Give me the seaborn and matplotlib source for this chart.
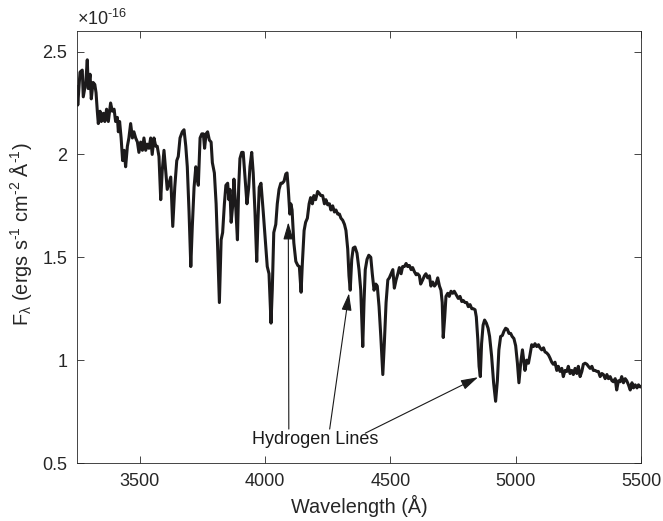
import numpy as np
import pandas as pd
import seaborn as sns
import matplotlib.pyplot as plt

# Observed spectrum: wavelength in Angstrom, flux in units of 1e-16 ergs/s/cm^2/A
wavelength = [
    3250, 3253, 3262, 3271, 3275, 3285, 3291, 3295, 3302, 3307, 3314, 3321, 3326, 3331, 3335,
    3342, 3347, 3355, 3361, 3368, 3375, 3384, 3391, 3398, 3404, 3411, 3415, 3420, 3426, 3432,
    3438, 3444, 3451, 3457, 3464, 3471, 3477, 3484, 3491, 3497, 3504, 3511, 3517, 3524, 3530,
    3537, 3544, 3550, 3557, 3564, 3570, 3577, 3584, 3590, 3597, 3604, 3610, 3617, 3624, 3632,
    3640, 3648, 3654, 3661, 3670, 3677, 3684, 3690, 3697, 3704, 3710, 3717, 3724, 3729, 3734,
    3741, 3748, 3754, 3759, 3765, 3771, 3778, 3785, 3790, 3798, 3805, 3811, 3818, 3825, 3831,
    3838, 3844, 3851, 3856, 3860, 3865, 3871, 3876, 3883, 3890, 3895, 3900, 3907, 3913, 3920,
    3928, 3935, 3940, 3947, 3953, 3960, 3967, 3972, 3977, 3984, 3993, 4003, 4009, 4016, 4024,
    4029, 4035, 4043, 4049, 4056, 4063, 4069, 4076, 4083, 4088, 4093, 4099, 4103, 4108, 4115,
    4123, 4131, 4137, 4144, 4149, 4156, 4162, 4169, 4176, 4182, 4189, 4195, 4202, 4210, 4217,
    4223, 4230, 4237, 4243, 4250, 4257, 4263, 4270, 4277, 4283, 4290, 4297, 4303, 4310, 4317,
    4323, 4330, 4335, 4340, 4346, 4352, 4359, 4367, 4375, 4382, 4390, 4395, 4400, 4407, 4414,
    4422, 4428, 4435, 4442, 4448, 4455, 4462, 4470, 4476, 4483, 4490, 4496, 4503, 4510, 4516,
    4523, 4530, 4536, 4543, 4549, 4556, 4563, 4569, 4576, 4583, 4589, 4596, 4603, 4609, 4616,
    4621, 4629, 4636, 4642, 4649, 4656, 4662, 4669, 4676, 4682, 4689, 4696, 4702, 4707, 4711,
    4717, 4722, 4729, 4735, 4742, 4749, 4755, 4762, 4771, 4778, 4785, 4791, 4798, 4805, 4811,
    4818, 4825, 4831, 4838, 4843, 4849, 4854, 4859, 4864, 4870, 4876, 4883, 4890, 4896, 4904,
    4912, 4920, 4927, 4933, 4940, 4947, 4953, 4960, 4967, 4973, 4980, 4986, 4993, 5000, 5007,
    5013, 5020, 5027, 5032, 5037, 5044, 5051, 5057, 5064, 5071, 5077, 5084, 5091, 5097, 5104,
    5111, 5117, 5124, 5131, 5137, 5144, 5150, 5157, 5164, 5170, 5177, 5184, 5190, 5197, 5204,
    5210, 5217, 5224, 5230, 5237, 5244, 5250, 5257, 5264, 5270, 5277, 5284, 5290, 5297, 5304,
    5310, 5317, 5324, 5330, 5337, 5344, 5350, 5357, 5364, 5370, 5377, 5384, 5390, 5397, 5403,
    5410, 5417, 5423, 5430, 5437, 5443, 5450, 5457, 5464, 5470, 5477, 5484, 5490, 5497, 5500,
]
flux = [
    2.33, 2.24, 2.40, 2.41, 2.28, 2.35, 2.46, 2.32, 2.39, 2.27, 2.35, 2.34, 2.30, 2.21, 2.15,
    2.21, 2.16, 2.20, 2.16, 2.22, 2.16, 2.25, 2.21, 2.22, 2.16, 2.18, 2.11, 2.16, 2.08, 1.97,
    2.02, 1.94, 2.04, 2.08, 2.15, 2.08, 2.11, 2.08, 2.06, 2.01, 2.06, 2.02, 2.08, 2.02, 2.05,
    2.03, 2.08, 2.00, 2.08, 2.04, 2.04, 1.99, 1.78, 1.92, 2.02, 1.92, 1.83, 1.86, 1.89, 1.65,
    1.84, 1.97, 1.99, 2.08, 2.11, 2.12, 2.04, 1.94, 1.72, 1.455, 1.65, 1.84, 1.94, 1.885, 1.85,
    2.08, 2.10, 2.10, 2.03, 2.10, 2.11, 2.07, 2.06, 1.96, 1.91, 1.76, 1.55, 1.28, 1.585, 1.62,
    1.76, 1.85, 1.86, 1.78, 1.83, 1.67, 1.75, 1.88, 1.75, 1.585, 1.84, 1.98, 2.01, 2.01, 1.89,
    1.76, 1.84, 1.94, 2.01, 1.91, 1.72, 1.48, 1.68, 1.84, 1.86, 1.72, 1.55, 1.455, 1.42, 1.18,
    1.34, 1.62, 1.66, 1.76, 1.83, 1.86, 1.86, 1.87, 1.905, 1.91, 1.83, 1.71, 1.76, 1.73, 1.57,
    1.48, 1.46, 1.455, 1.33, 1.47, 1.63, 1.67, 1.69, 1.76, 1.79, 1.76, 1.80, 1.78, 1.82, 1.81,
    1.80, 1.80, 1.76, 1.78, 1.755, 1.76, 1.73, 1.75, 1.72, 1.73, 1.71, 1.71, 1.69, 1.68, 1.66,
    1.63, 1.54, 1.41, 1.34, 1.49, 1.545, 1.55, 1.52, 1.44, 1.34, 1.066, 1.28, 1.44, 1.49, 1.51,
    1.50, 1.42, 1.34, 1.37, 1.36, 1.26, 1.115, 0.93, 1.08, 1.28, 1.39, 1.40, 1.42, 1.44, 1.35,
    1.39, 1.42, 1.45, 1.42, 1.455, 1.455, 1.47, 1.455, 1.46, 1.44, 1.45, 1.43, 1.415, 1.42, 1.41,
    1.37, 1.39, 1.41, 1.42, 1.40, 1.41, 1.36, 1.38, 1.36, 1.37, 1.40, 1.36, 1.34, 1.28, 1.11,
    1.21, 1.31, 1.325, 1.31, 1.335, 1.325, 1.335, 1.32, 1.30, 1.31, 1.285, 1.29, 1.28, 1.28, 1.26,
    1.27, 1.25, 1.25, 1.245, 1.21, 1.10, 0.97, 0.92, 1.08, 1.17, 1.195, 1.18, 1.155, 1.115, 1.02,
    0.89, 0.80, 0.90, 1.05, 1.115, 1.12, 1.14, 1.155, 1.15, 1.13, 1.13, 1.115, 1.105, 1.07, 0.985,
    0.89, 0.985, 1.05, 1.00, 0.95, 1.00, 0.985, 1.025, 1.075, 1.066, 1.08, 1.066, 1.075, 1.06, 1.05,
    1.06, 1.04, 1.035, 1.025, 1.01, 0.99, 0.98, 0.99, 0.95, 0.97, 0.945, 0.96, 0.92, 0.95, 0.945,
    0.97, 0.935, 0.95, 0.93, 0.96, 0.935, 0.97, 0.92, 0.945, 0.98, 0.985, 0.98, 0.97, 0.96, 0.97,
    0.95, 0.95, 0.945, 0.945, 0.92, 0.935, 0.93, 0.91, 0.93, 0.91, 0.92, 0.90, 0.895, 0.91, 0.855,
    0.90, 0.895, 0.92, 0.89, 0.91, 0.90, 0.88, 0.855, 0.89, 0.865, 0.88, 0.865, 0.88, 0.87, 0.87,
]

x_ticks = [3500, 4000, 4500, 5000, 5500]
y_ticks = [0.5, 1.0, 1.5, 2.0, 2.5]

# Hydrogen line markers: arrow tails, arrow tips (wavelength, flux) and shared label
line_label = "Hydrogen Lines"
label_pos = (4200, 0.615)
arrow_tails = [(4095, 0.665), (4258, 0.665), (4400, 0.645)]
arrow_tips = [(4093, 1.67), (4335, 1.325), (4850, 0.917)]

sns.set_theme(style="white")
plt.rcParams["font.family"] = ["Liberation Sans", "DejaVu Sans"]
plt.rcParams["mathtext.default"] = "regular"

grey = "#262626"
hy = "\u2010"  # short hyphen used in the exponents
fig = plt.figure(figsize=(6.63, 5.21), dpi=100)
ax = fig.add_axes([77 / 663, 58 / 521, 564 / 663, 432 / 521])

df = pd.DataFrame({"wavelength": wavelength, "flux": flux})
sns.lineplot(data=df, x="wavelength", y="flux", ax=ax, color="#1c1a1b",
             linewidth=2.2, estimator=None, sort=False)

ax.set_xlim(3250, 5500)
ax.set_ylim(0.5, 2.6)
ax.set_xticks(x_ticks)
ax.set_yticks(y_ticks)
ax.set_xticklabels([f"{v:g}" for v in x_ticks])
ax.set_yticklabels([f"{v:g}" for v in y_ticks])
ax.tick_params(direction="in", length=5, width=0.6, color=grey, labelcolor=grey,
               labelsize=13, pad=7, top=True, right=True, bottom=True, left=True)
for s in ax.spines.values():
    s.set_color(grey)
    s.set_linewidth(0.6)

ax.set_xlabel("Wavelength (Å)", fontsize=14.3, color=grey, labelpad=4)
ax.set_ylabel(f"F$_\\lambda$ (ergs s$^{{{hy}1}}$ cm$^{{{hy}2}}$ Å$^{{{hy}1}}$)",
              fontsize=14.3, color=grey)
ax.yaxis.set_label_coords(-0.077, 0.53)

ax.text(0.0, 1.004, f"$\\times$10$^{{{hy}16}}$", transform=ax.transAxes, ha="left",
        va="bottom", fontsize=13, color=grey)

for tail, tip in zip(arrow_tails, arrow_tips):
    ax.annotate("", xy=tip, xytext=tail,
                arrowprops=dict(arrowstyle="-|>,head_width=0.22,head_length=0.75",
                                color="#1a1a1a", lw=0.8, mutation_scale=14,
                                shrinkA=0, shrinkB=0))
ax.text(*label_pos, line_label, ha="center", va="center", fontsize=13, color="#1a1a1a")

fig.savefig("out.png", dpi=100)
